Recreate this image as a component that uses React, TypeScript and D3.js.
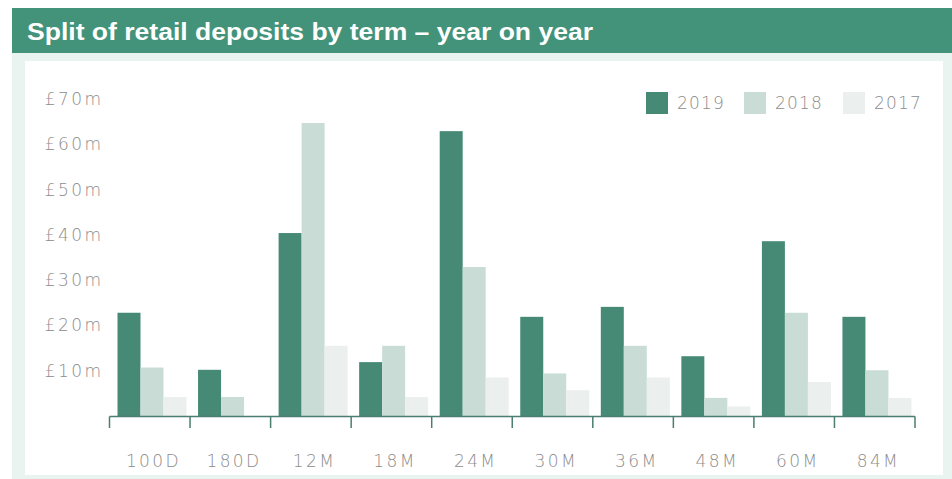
import React from "react";
import * as d3 from "d3";

const categories = ["100D", "180D", "12M", "18M", "24M", "30M", "36M", "48M", "60M", "84M"];
const years = ["2019", "2018", "2017"];
const values2019 = [22.8, 10.2, 40.4, 11.9, 62.9, 21.9, 24.1, 13.2, 38.6, 21.9];
const values2018 = [10.7, 4.2, 64.7, 15.5, 32.9, 9.4, 15.5, 4.0, 22.8, 10.1];
const values2017 = [4.2, 0, 15.5, 4.2, 8.5, 5.7, 8.5, 2.1, 7.5, 4.0];
const yTicks = [10, 20, 30, 40, 50, 60, 70];
const title = "Split of retail deposits by term – year on year";

const colors: Record<string, string> = { "2019": "#468a76", "2018": "#c9dcd6", "2017": "#ebefed" };

export default function App() {
  const W = 952, H = 479;
  const series: Record<string, number[]> = { "2019": values2019, "2018": values2018, "2017": values2017 };
  const x0 = d3.scaleBand<string>().domain(categories).range([109.5, 915]).padding(0);
  const x1 = d3.scaleBand<string>().domain(years).range([8, 77]).padding(0);
  const y = d3.scaleLinear().domain([0, 70]).range([416, 99]);
  const axisY = 416.5;
  const font = "'DejaVu Sans', sans-serif";
  const textFill = "#8c8c8c";
  const ls = 2.4;
  const boundaries = categories.map((c) => x0(c) as number).concat([915]);
  const legendItems = [
    { year: "2019", x: 646 },
    { year: "2018", x: 744 },
    { year: "2017", x: 843 },
  ];
  return (
    <svg width={W} height={H} style={{ position: "absolute", left: 0, top: 0 }}>
      <rect x={12} y={8} width={W - 12} height={H - 8} fill="#e9f3f0" />
      <rect x={12} y={8} width={W - 12} height={45} fill="#43937b" />
      <text x={27} y={39.5} fill="#ffffff" fontFamily="'Liberation Sans', Arial, sans-serif" fontWeight="bold" fontSize={24} textLength={566} lengthAdjust="spacingAndGlyphs">
        {title}
      </text>
      <rect x={25} y={61} width={918} height={414} fill="#ffffff" />
      {yTicks.map((t) => (
        <text key={t} x={101 + ls} y={y(t)} dy="0.35em" textAnchor="end" fill={textFill} fontFamily={font} fontWeight={300} fontSize={17} letterSpacing={ls}>
          {`£${t}m`}
        </text>
      ))}
      {categories.map((c, i) => (
        <g key={c} transform={`translate(${x0(c)},0)`}>
          {years.map((yr) => {
            const v = series[yr][i];
            if (!v) return null;
            return (
              <rect key={yr} x={x1(yr)} y={y(v)} width={x1.bandwidth()} height={y(0) - y(v)} fill={colors[yr]} />
            );
          })}
          <text x={x0.bandwidth() / 2 + 2.5 + ls / 2} y={461} dy="0.35em" textAnchor="middle" fill={textFill} fontFamily={font} fontWeight={300} fontSize={17} letterSpacing={ls}>
            {c}
          </text>
        </g>
      ))}
      <line x1={109.5} x2={915} y1={axisY} y2={axisY} stroke="#4b7d70" strokeWidth={1.5} />
      {boundaries.map((bx, i) => (
        <line key={i} x1={bx} x2={bx} y1={axisY} y2={428} stroke="#4b7d70" strokeWidth={1.5} />
      ))}
      {legendItems.map((l) => (
        <g key={l.year}>
          <rect x={l.x} y={92} width={22} height={22} fill={colors[l.year]} />
          <text x={l.x + 31} y={103} dy="0.35em" fill={textFill} fontFamily={font} fontWeight={300} fontSize={17} letterSpacing={1.2}>
            {l.year}
          </text>
        </g>
      ))}
    </svg>
  );
}
